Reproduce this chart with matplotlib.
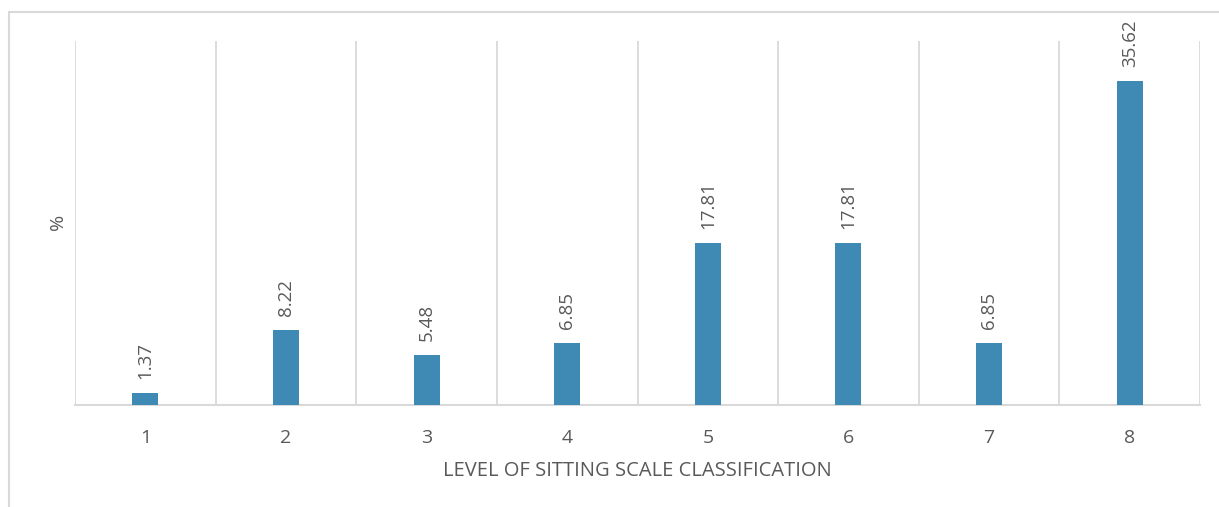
import matplotlib
matplotlib.use("Agg")
import matplotlib.pyplot as plt
from matplotlib.patches import Rectangle
import numpy as np

levels = ["1", "2", "3", "4", "5", "6", "7", "8"]
percent = [1.37, 8.22, 5.48, 6.85, 17.81, 17.81, 6.85, 35.62]

bar_color = "#3F89B5"
text_color = "#595959"
grid_color = "#D9D9D9"

plt.rcParams["font.family"] = ["Open Sans", "DejaVu Sans"]

fig = plt.figure(figsize=(12.19, 5.07), dpi=100)
ax = fig.add_axes([75 / 1219, (507 - 405) / 507, (1200 - 75) / 1219, (405 - 41) / 507])

x = np.arange(len(levels))
ax.bar(x, percent, width=0.185, color=bar_color, zorder=3)

for xi, v in zip(x, percent):
    ax.annotate(f"{v:.2f}", (xi, v), xytext=(0, 10), textcoords="offset points",
                rotation=90, ha="center", va="bottom", color=text_color, fontsize=13.5)

ax.set_xlim(-0.5, len(levels) - 0.5)
ax.set_ylim(0, 40)
ax.set_yticks([])
ax.set_xticks(x)
ax.set_xticklabels(levels, color=text_color, fontsize=14)
ax.tick_params(axis="x", length=0, pad=17)

# vertical separators between categories
for b in np.arange(-0.5, len(levels), 1.0):
    ax.axvline(b, color=grid_color, lw=1.3, zorder=1)

for s in ["top", "left", "right"]:
    ax.spines[s].set_visible(False)
ax.spines["bottom"].set_color(grid_color)
ax.spines["bottom"].set_linewidth(1.5)

ax.set_xlabel("LEVEL OF SITTING SCALE CLASSIFICATION", color=text_color, fontsize=14.5, labelpad=10)
fig.text(58 / 1219, 1 - 222 / 507, "%", rotation=90, ha="center", va="center",
         color=text_color, fontsize=14)

# outer chart frame
fig.patches.append(Rectangle((9 / 1219, -0.1), 1.2, 1 - 12 / 507 + 0.1,
                             transform=fig.transFigure, fill=False,
                             edgecolor=grid_color, lw=1.5))

fig.savefig("out.png", dpi=100)
